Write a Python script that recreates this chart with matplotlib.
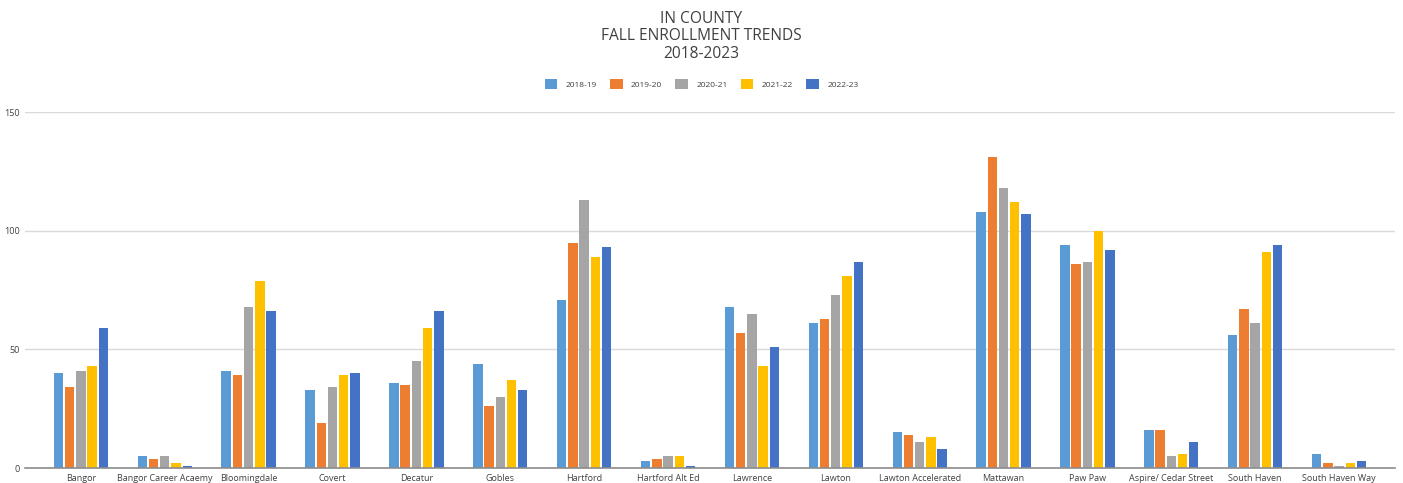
import matplotlib.pyplot as plt
import numpy as np

schools = ["Bangor", "Bangor Career Acaemy", "Bloomingdale", "Covert", "Decatur",
           "Gobles", "Hartford", "Hartford Alt Ed", "Lawrence", "Lawton",
           "Lawton Accelerated", "Mattawan", "Paw Paw", "Aspire/ Cedar Street",
           "South Haven", "South Haven Way"]
years = ["2018-19", "2019-20", "2020-21", "2021-22", "2022-23"]

y2018 = [40, 5, 41, 33, 36, 44, 71, 3, 68, 61, 15, 108, 94, 16, 56, 6]
y2019 = [34, 4, 39, 19, 35, 26, 95, 4, 57, 63, 14, 131, 86, 16, 67, 2]
y2020 = [41, 5, 68, 34, 45, 30, 113, 5, 65, 73, 11, 118, 87, 5, 61, 1]
y2021 = [43, 2, 79, 39, 59, 37, 89, 5, 43, 81, 13, 112, 100, 6, 91, 2]
y2022 = [59, 1, 66, 40, 66, 33, 93, 1, 51, 87, 8, 107, 92, 11, 94, 3]

colors = ["#5B9BD5", "#ED7D31", "#A5A5A5", "#FFC000", "#4472C4"]

plt.rcParams['font.family'] = ['Open Sans', 'DejaVu Sans']

fig = plt.figure(figsize=(14.03, 4.83), dpi=100)
ax = fig.add_axes([0.0178, 0.031, 0.9765, 0.737])

x = np.arange(len(schools))
pitch = 0.134
for i, (vals, yr) in enumerate(zip([y2018, y2019, y2020, y2021, y2022], years)):
    ax.bar(x + (i - 2) * pitch, vals, width=0.112, color=colors[i], label=yr, zorder=3)

ax.set_xlim(-0.667, len(schools) - 1 + 0.667)
ax.set_ylim(0, 150)
ax.set_yticks([0, 50, 100, 150])
ax.yaxis.grid(True, color="#D9D9D9", lw=1, zorder=0)
ax.set_xticks(x)
ax.set_xticklabels(schools, fontsize=6.5, color="#404040")
ax.tick_params(axis='x', length=0, pad=4)
ax.tick_params(axis='y', length=0, labelsize=6.5, labelcolor="#404040", pad=4)
for s in ["top", "right", "left"]:
    ax.spines[s].set_visible(False)
ax.spines["bottom"].set_color("#8C8C8C")
ax.spines["bottom"].set_linewidth(1.2)
ax.spines["bottom"].set_zorder(4)

fig.text(0.5, 0.978, "IN COUNTY\nFALL ENROLLMENT TRENDS\n2018-2023", ha="center", va="top",
         fontsize=11.2, color="#404040", linespacing=1.15)
fig.legend(loc="center", bbox_to_anchor=(0.5, 0.826), ncol=5, frameon=False,
           fontsize=6, handlelength=1.5, handleheight=1.5, columnspacing=1.6,
           handletextpad=1.0, labelcolor="#404040")

plt.savefig("out.png", dpi=100)
